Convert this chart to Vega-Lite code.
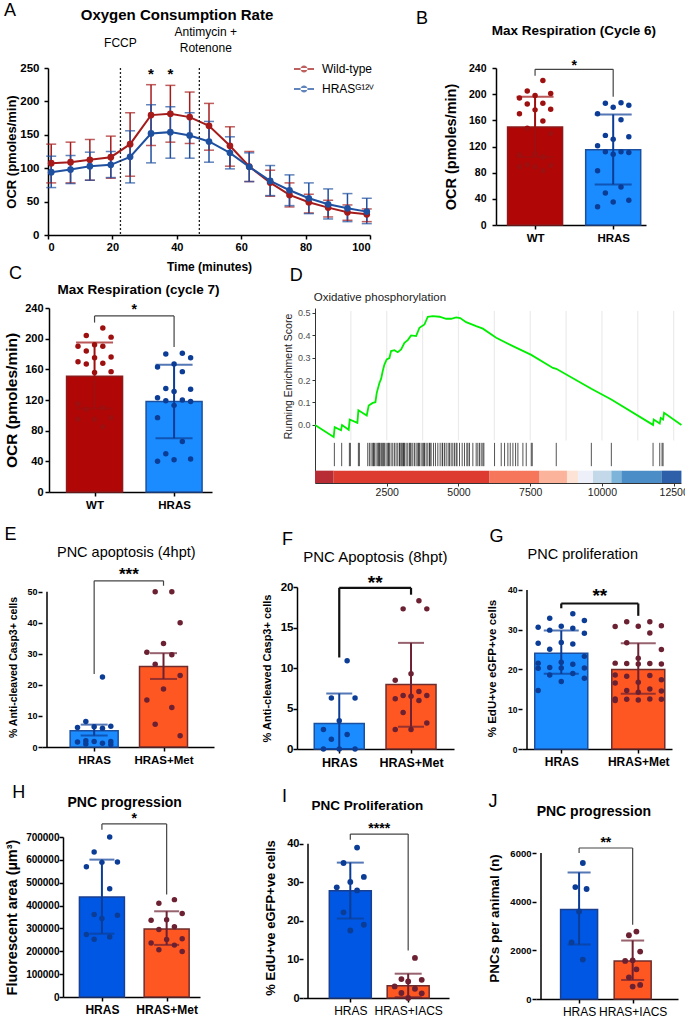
{
"$schema":"https://vega.github.io/schema/vega-lite/v6.json",
"background":"white",
"padding":{"left":3,"top":2,"right":0,"bottom":0},
"config":{
 "font":"Liberation Sans",
 "view":{"stroke":null},
 "axis":{"grid":false,"minExtent":0,"tickCount":20,"labelOverlap":false,"domainColor":"#000","domainWidth":1.5,"tickColor":"#000","tickWidth":1.5,"tickSize":4,"labelColor":"#000","labelFont":"Liberation Sans","labelFontWeight":"bold","labelFontSize":10,"labelPadding":2,"titleColor":"#000","titleFont":"Liberation Sans","titleFontWeight":"bold","titleFontSize":12,"titlePadding":5},
 "axisX":{"labelAngle":0},
 "text":{"font":"Liberation Sans","color":"#000"},
 "legend":{"labelFont":"Liberation Sans"}
},
"datasets":{
 "A":[
  {"g":"Wild-type","t":1,"v":107.5,"lo":78,"hi":136},{"g":"Wild-type","t":7,"v":109,"lo":78,"hi":139},{"g":"Wild-type","t":13,"v":112.5,"lo":82,"hi":143},{"g":"Wild-type","t":19.5,"v":116.5,"lo":85,"hi":148},{"g":"Wild-type","t":25.5,"v":136,"lo":88,"hi":183},{"g":"Wild-type","t":32,"v":179.5,"lo":134,"hi":225},{"g":"Wild-type","t":38,"v":181.5,"lo":139,"hi":224},{"g":"Wild-type","t":44,"v":176.5,"lo":137,"hi":214},{"g":"Wild-type","t":50,"v":163.5,"lo":127,"hi":197},{"g":"Wild-type","t":56.5,"v":133.5,"lo":103,"hi":162},{"g":"Wild-type","t":62.5,"v":102.5,"lo":80,"hi":125},{"g":"Wild-type","t":69,"v":78.5,"lo":58,"hi":97},{"g":"Wild-type","t":75,"v":60,"lo":42,"hi":78},{"g":"Wild-type","t":81,"v":49,"lo":33,"hi":61},{"g":"Wild-type","t":87,"v":41,"lo":27,"hi":52},{"g":"Wild-type","t":93,"v":34,"lo":22,"hi":45},{"g":"Wild-type","t":99,"v":31,"lo":20,"hi":39},
  {"g":"HRAS","t":1,"v":94,"lo":71,"hi":118},{"g":"HRAS","t":7,"v":98,"lo":77,"hi":119},{"g":"HRAS","t":13,"v":103,"lo":82,"hi":124},{"g":"HRAS","t":19.5,"v":105,"lo":86,"hi":125},{"g":"HRAS","t":25.5,"v":117,"lo":78,"hi":156},{"g":"HRAS","t":32,"v":152,"lo":108,"hi":195},{"g":"HRAS","t":38,"v":154,"lo":115,"hi":192},{"g":"HRAS","t":44,"v":149,"lo":115,"hi":183},{"g":"HRAS","t":50,"v":140,"lo":109,"hi":170},{"g":"HRAS","t":56.5,"v":123,"lo":99,"hi":147},{"g":"HRAS","t":62.5,"v":102,"lo":80,"hi":123},{"g":"HRAS","t":69,"v":81,"lo":59,"hi":104},{"g":"HRAS","t":75,"v":67,"lo":44,"hi":90},{"g":"HRAS","t":81,"v":55,"lo":32,"hi":78},{"g":"HRAS","t":87,"v":46,"lo":24,"hi":69},{"g":"HRAS","t":93,"v":40,"lo":20,"hi":62},{"g":"HRAS","t":99,"v":35,"lo":17,"hi":55}
 ],
 "Bbar":[{"g":"WT","m":150,"lo":104,"hi":196},{"g":"HRAS","m":115,"lo":62,"hi":169}],
 "Bpts":[{"g":"WT","v":221},{"g":"WT","v":205},{"g":"WT","v":201},{"g":"WT","v":198},{"g":"WT","v":194},{"g":"WT","v":186},{"g":"WT","v":185},{"g":"WT","v":177},{"g":"WT","v":176},{"g":"WT","v":170},{"g":"WT","v":159},{"g":"WT","v":148},{"g":"WT","v":140},{"g":"WT","v":109},{"g":"WT","v":107},{"g":"WT","v":104},{"g":"WT","v":92},{"g":"WT","v":91},{"g":"WT","v":89},{"g":"WT","v":89},{"g":"WT","v":83},
  {"g":"HRAS","v":187},{"g":"HRAS","v":186},{"g":"HRAS","v":183},{"g":"HRAS","v":180},{"g":"HRAS","v":170},{"g":"HRAS","v":161},{"g":"HRAS","v":137},{"g":"HRAS","v":135},{"g":"HRAS","v":131},{"g":"HRAS","v":121},{"g":"HRAS","v":112},{"g":"HRAS","v":112},{"g":"HRAS","v":111},{"g":"HRAS","v":108},{"g":"HRAS","v":83},{"g":"HRAS","v":58},{"g":"HRAS","v":49},{"g":"HRAS","v":38},{"g":"HRAS","v":35},{"g":"HRAS","v":28}],
 "Cbar":[{"g":"WT","m":151,"lo":109,"hi":195},{"g":"HRAS","m":118,"lo":70,"hi":166}],
 "Cpts":[{"g":"WT","v":214},{"g":"WT","v":204},{"g":"WT","v":202},{"g":"WT","v":192},{"g":"WT","v":190},{"g":"WT","v":190},{"g":"WT","v":184},{"g":"WT","v":176},{"g":"WT","v":175},{"g":"WT","v":170},{"g":"WT","v":168},{"g":"WT","v":167},{"g":"WT","v":157},{"g":"WT","v":156},{"g":"WT","v":115},{"g":"WT","v":110},{"g":"WT","v":108},{"g":"WT","v":97},{"g":"WT","v":95},{"g":"WT","v":95},{"g":"WT","v":85},
  {"g":"HRAS","v":181},{"g":"HRAS","v":180},{"g":"HRAS","v":175},{"g":"HRAS","v":167},{"g":"HRAS","v":163},{"g":"HRAS","v":157},{"g":"HRAS","v":135},{"g":"HRAS","v":134},{"g":"HRAS","v":131},{"g":"HRAS","v":123},{"g":"HRAS","v":120},{"g":"HRAS","v":119},{"g":"HRAS","v":118},{"g":"HRAS","v":113},{"g":"HRAS","v":97},{"g":"HRAS","v":66},{"g":"HRAS","v":50},{"g":"HRAS","v":43},{"g":"HRAS","v":42},{"g":"HRAS","v":40}],
 "Ebar":[{"g":"HRAS","m":5.2,"lo":3.7,"hi":7.2},{"g":"HRAS+Met","m":25.9,"lo":21.9,"hi":30.2}],
 "Epts":[{"g":"HRAS","v":22.5},{"g":"HRAS","v":8.2},{"g":"HRAS","v":6.7},{"g":"HRAS","v":6.5},{"g":"HRAS","v":6.3},{"g":"HRAS","v":6.0},{"g":"HRAS","v":2.0},{"g":"HRAS","v":1.8},{"g":"HRAS","v":1.8},{"g":"HRAS","v":1.6},{"g":"HRAS","v":1.2},{"g":"HRAS","v":1.0},{"g":"HRAS","v":0.8},
  {"g":"HRAS+Met","v":50},{"g":"HRAS+Met","v":50},{"g":"HRAS+Met","v":40},{"g":"HRAS+Met","v":33.3},{"g":"HRAS+Met","v":30.5},{"g":"HRAS+Met","v":29.7},{"g":"HRAS+Met","v":26.6},{"g":"HRAS+Met","v":23},{"g":"HRAS+Met","v":18.7},{"g":"HRAS+Met","v":15.1},{"g":"HRAS+Met","v":12.7},{"g":"HRAS+Met","v":7.3},{"g":"HRAS+Met","v":3.6}],
 "Fbar":[{"g":"HRAS","m":3.15,"lo":0,"hi":6.85},{"g":"HRAS+Met","m":7.95,"lo":2.75,"hi":13.1}],
 "Fpts":[{"g":"HRAS","v":10.9},{"g":"HRAS","v":6.3},{"g":"HRAS","v":6.3},{"g":"HRAS","v":3.5},{"g":"HRAS","v":2.4},{"g":"HRAS","v":1.8},{"g":"HRAS","v":1.2},{"g":"HRAS","v":0},{"g":"HRAS","v":0},{"g":"HRAS","v":0},
  {"g":"HRAS+Met","v":18.3},{"g":"HRAS+Met","v":17.3},{"g":"HRAS+Met","v":17.3},{"g":"HRAS+Met","v":9.3},{"g":"HRAS+Met","v":8.5},{"g":"HRAS+Met","v":7.1},{"g":"HRAS+Met","v":6.6},{"g":"HRAS+Met","v":6.6},{"g":"HRAS+Met","v":6.5},{"g":"HRAS+Met","v":6.2},{"g":"HRAS+Met","v":6.0},{"g":"HRAS+Met","v":4.5},{"g":"HRAS+Met","v":3.2},{"g":"HRAS+Met","v":2.4},{"g":"HRAS+Met","v":2.4}],
 "Gbar":[{"g":"HRAS","m":24.1,"lo":18.9,"hi":29.8},{"g":"HRAS+Met","m":20.0,"lo":13.9,"hi":26.6}],
 "Gpts":[{"g":"HRAS","v":34},{"g":"HRAS","v":32.9},{"g":"HRAS","v":32.3},{"g":"HRAS","v":30.9},{"g":"HRAS","v":30.6},{"g":"HRAS","v":30.4},{"g":"HRAS","v":29.9},{"g":"HRAS","v":29.1},{"g":"HRAS","v":26.8},{"g":"HRAS","v":26.6},{"g":"HRAS","v":26.4},{"g":"HRAS","v":25.1},{"g":"HRAS","v":23.3},{"g":"HRAS","v":21.8},{"g":"HRAS","v":21.6},{"g":"HRAS","v":21.3},{"g":"HRAS","v":20.5},{"g":"HRAS","v":20.4},{"g":"HRAS","v":20.4},{"g":"HRAS","v":20.3},{"g":"HRAS","v":19.0},{"g":"HRAS","v":18.6},{"g":"HRAS","v":17.8},{"g":"HRAS","v":17.0},{"g":"HRAS","v":14.7},
  {"g":"HRAS+Met","v":32},{"g":"HRAS+Met","v":32},{"g":"HRAS+Met","v":31},{"g":"HRAS+Met","v":30.9},{"g":"HRAS+Met","v":30.8},{"g":"HRAS+Met","v":29.2},{"g":"HRAS+Met","v":26.7},{"g":"HRAS+Met","v":25},{"g":"HRAS+Met","v":22.8},{"g":"HRAS+Met","v":21.6},{"g":"HRAS+Met","v":21.5},{"g":"HRAS+Met","v":21.5},{"g":"HRAS+Met","v":21.4},{"g":"HRAS+Met","v":21.4},{"g":"HRAS+Met","v":18.6},{"g":"HRAS+Met","v":18.5},{"g":"HRAS+Met","v":18.3},{"g":"HRAS+Met","v":17.4},{"g":"HRAS+Met","v":16.8},{"g":"HRAS+Met","v":16.6},{"g":"HRAS+Met","v":15.1},{"g":"HRAS+Met","v":14.7},{"g":"HRAS+Met","v":14.6},{"g":"HRAS+Met","v":14.3},{"g":"HRAS+Met","v":12.6},{"g":"HRAS+Met","v":12.6},{"g":"HRAS+Met","v":12.5},{"g":"HRAS+Met","v":12.5},{"g":"HRAS+Met","v":12.3},{"g":"HRAS+Met","v":12.2}],
 "Hbar":[{"g":"HRAS","m":437000,"lo":277000,"hi":601000},{"g":"HRAS+Met","m":298000,"lo":228000,"hi":375000}],
 "Hpts":[{"g":"HRAS","v":700000},{"g":"HRAS","v":634000},{"g":"HRAS","v":591000},{"g":"HRAS","v":589000},{"g":"HRAS","v":570000},{"g":"HRAS","v":474000},{"g":"HRAS","v":361000},{"g":"HRAS","v":358000},{"g":"HRAS","v":343000},{"g":"HRAS","v":273000},{"g":"HRAS","v":263000},{"g":"HRAS","v":253000},
  {"g":"HRAS+Met","v":426000},{"g":"HRAS+Met","v":410000},{"g":"HRAS+Met","v":365000},{"g":"HRAS+Met","v":338000},{"g":"HRAS+Met","v":336000},{"g":"HRAS+Met","v":307000},{"g":"HRAS+Met","v":295000},{"g":"HRAS+Met","v":255000},{"g":"HRAS+Met","v":252000},{"g":"HRAS+Met","v":236000},{"g":"HRAS+Met","v":227000},{"g":"HRAS+Met","v":207000},{"g":"HRAS+Met","v":199000}],
 "Ibar":[{"g":"HRAS","m":27.8,"lo":20.6,"hi":35.1},{"g":"HRAS+IACS","m":3.2,"lo":0.2,"hi":6.3}],
 "Ipts":[{"g":"HRAS","v":39},{"g":"HRAS","v":35},{"g":"HRAS","v":31.4},{"g":"HRAS","v":30.1},{"g":"HRAS","v":28.7},{"g":"HRAS","v":27.9},{"g":"HRAS","v":22.2},{"g":"HRAS","v":19},{"g":"HRAS","v":17.5},
  {"g":"HRAS+IACS","v":10.4},{"g":"HRAS+IACS","v":4.9},{"g":"HRAS+IACS","v":4.7},{"g":"HRAS+IACS","v":4.3},{"g":"HRAS+IACS","v":3.0},{"g":"HRAS+IACS","v":2.4},{"g":"HRAS+IACS","v":1.3},{"g":"HRAS+IACS","v":1.2},{"g":"HRAS+IACS","v":0}],
 "Jbar":[{"g":"HRAS","m":3680,"lo":2240,"hi":5200},{"g":"HRAS+IACS","m":1565,"lo":783,"hi":2403}],
 "Jpts":[{"g":"HRAS","v":5590},{"g":"HRAS","v":4600},{"g":"HRAS","v":4520},{"g":"HRAS","v":3600},{"g":"HRAS","v":2330},{"g":"HRAS","v":1620},
  {"g":"HRAS+IACS","v":2770},{"g":"HRAS+IACS","v":2620},{"g":"HRAS+IACS","v":1950},{"g":"HRAS+IACS","v":1590},{"g":"HRAS+IACS","v":1565},{"g":"HRAS+IACS","v":1220},{"g":"HRAS+IACS","v":890},{"g":"HRAS+IACS","v":580},{"g":"HRAS+IACS","v":510}],
 "Des":[{"x":0,"y":0},{"x":651,"y":-0.054},{"x":686,"y":-0.010},{"x":907,"y":-0.024},{"x":942,"y":-0.001},{"x":1175,"y":-0.022},{"x":1209,"y":0.024},{"x":1477,"y":0.009},{"x":1512,"y":0.065},{"x":1803,"y":0.042},{"x":1872,"y":0.086},{"x":2012,"y":0.098},{"x":2105,"y":0.101},{"x":2152,"y":0.143},{"x":2245,"y":0.187},{"x":2303,"y":0.205},{"x":2361,"y":0.240},{"x":2419,"y":0.269},{"x":2500,"y":0.292},{"x":2593,"y":0.298},{"x":2652,"y":0.329},{"x":2768,"y":0.333},{"x":2884,"y":0.324},{"x":3001,"y":0.336},{"x":3117,"y":0.366},{"x":3233,"y":0.378},{"x":3349,"y":0.399},{"x":3524,"y":0.396},{"x":3640,"y":0.433},{"x":3815,"y":0.448},{"x":3931,"y":0.482},{"x":4105,"y":0.485},{"x":4338,"y":0.482},{"x":4571,"y":0.473},{"x":4745,"y":0.473},{"x":4919,"y":0.479},{"x":5059,"y":0.476},{"x":5268,"y":0.458},{"x":5617,"y":0.440},{"x":5850,"y":0.429},{"x":6315,"y":0.388},{"x":6896,"y":0.351},{"x":7536,"y":0.312},{"x":8292,"y":0.254},{"x":8408,"y":0.250},{"x":9630,"y":0.161},{"x":10327,"y":0.113},{"x":11781,"y":0.000},{"x":11804,"y":0.024},{"x":12014,"y":0.006},{"x":12049,"y":0.031},{"x":12130,"y":0.024},{"x":12165,"y":0.054},{"x":12770,"y":0.000}],
 "Drug":[{"x":675},{"x":930},{"x":1198},{"x":1233},{"x":1512},{"x":1547},{"x":1838},{"x":1896},{"x":1954},{"x":2012},{"x":2040},{"x":2070},{"x":2128},{"x":2186},{"x":2221},{"x":2240},{"x":2268},{"x":2314},{"x":2361},{"x":2380},{"x":2419},{"x":2477},{"x":2535},{"x":2560},{"x":2593},{"x":2652},{"x":2710},{"x":2768},{"x":2826},{"x":2884},{"x":2942},{"x":2960},{"x":3001},{"x":3035},{"x":3070},{"x":3090},{"x":3117},{"x":3175},{"x":3233},{"x":3291},{"x":3320},{"x":3349},{"x":3408},{"x":3466},{"x":3524},{"x":3582},{"x":3610},{"x":3640},{"x":3698},{"x":3756},{"x":3790},{"x":3815},{"x":3873},{"x":3931},{"x":3989},{"x":4010},{"x":4047},{"x":4129},{"x":4198},{"x":4280},{"x":4361},{"x":4431},{"x":4450},{"x":4512},{"x":4571},{"x":4640},{"x":4687},{"x":4745},{"x":4803},{"x":4861},{"x":4919},{"x":4950},{"x":5036},{"x":5129},{"x":5210},{"x":5292},{"x":5330},{"x":5385},{"x":5501},{"x":5617},{"x":5675},{"x":5733},{"x":5792},{"x":5850},{"x":5885},{"x":6257},{"x":6490},{"x":6606},{"x":6722},{"x":6804},{"x":6897},{"x":6990},{"x":7071},{"x":7245},{"x":7362},{"x":7536},{"x":7571},{"x":8408},{"x":9630},{"x":10327},{"x":11781},{"x":12014},{"x":12095},{"x":12130}],
 "Dgrid":[{"x":1250},{"x":2500},{"x":3750},{"x":5000},{"x":6250},{"x":7500},{"x":8750},{"x":10000},{"x":11250},{"x":12500}],
 "Dbar":[{"x0":0,"x1":651,"c":"c01"},{"x0":651,"x1":6083,"c":"c02"},{"x0":6083,"x1":7827,"c":"c03"},{"x0":7827,"x1":8781,"c":"c04"},{"x0":8781,"x1":9164,"c":"c05"},{"x0":9164,"x1":9688,"c":"c06"},{"x0":9688,"x1":10327,"c":"c07"},{"x0":10327,"x1":10676,"c":"c08"},{"x0":10676,"x1":12072,"c":"c09"},{"x0":12072,"x1":12770,"c":"c10"}]
},
"resolve":{"scale":{"color":"independent","fill":"independent","stroke":"independent"},"legend":{"color":"independent"}},
"concat":[
 {"hconcat":[
  {"width":1,"height":1,"data":{"values":[{}]},"mark":{"type":"point","opacity":0,"size":0},"encoding":{}},
  {"hconcat":[
  {"width":322,"height":167,
   "data":{"name":"A"},
   "layer":[
    {"mark":{"type":"rule","strokeWidth":1.5},"encoding":{"x":{"field":"t","type":"quantitative","scale":{"domain":[0,100],"nice":false},"axis":{"values":[0,20,40,60,80,100],"title":"Time (minutes)","labelFontSize":11,"titleFontSize":12,"titlePadding":9}},"y":{"field":"lo","type":"quantitative","scale":{"domain":[0,250],"nice":false},"axis":{"values":[0,50,100,150,200,250],"title":"OCR (pmoles/min)","labelFontSize":11.5,"titleFontSize":13,"labelPadding":5,"titlePadding":1}},"y2":{"field":"hi"},"color":{"field":"g","type":"nominal"}}},
    {"mark":{"type":"tick","size":10,"thickness":1.5,"orient":"horizontal"},"encoding":{"x":{"field":"t","type":"quantitative"},"y":{"field":"lo","type":"quantitative"},"color":{"field":"g","type":"nominal"}}},
    {"mark":{"type":"tick","size":10,"thickness":1.5,"orient":"horizontal"},"encoding":{"x":{"field":"t","type":"quantitative"},"y":{"field":"hi","type":"quantitative"},"color":{"field":"g","type":"nominal"}}},
    {"mark":{"type":"line","strokeWidth":2},"encoding":{"x":{"field":"t","type":"quantitative"},"y":{"field":"v","type":"quantitative"},"color":{"field":"g","type":"nominal"}}},
    {"mark":{"type":"circle","size":45,"opacity":1},"encoding":{"x":{"field":"t","type":"quantitative"},"y":{"field":"v","type":"quantitative"},"color":{"field":"g","type":"nominal","scale":{"domain":["Wild-type","HRAS"],"range":["#a51b1b","#1f50a0"]},"legend":{"title":null,"orient":"none","legendX":246,"legendY":-9,"labelFontSize":12,"labelFontWeight":"normal","labelColor":"#000","symbolType":"M-1,-0.1L1,-0.1L1,0.1L-1,0.1Z M-0.35,0A0.35,0.35 0 1,0 0.35,0A0.35,0.35 0 1,0 -0.35,0Z","symbolSize":400,"symbolStrokeWidth":0,"labelOffset":8,"rowPadding":4,"labelExpr":"datum.label == 'HRAS' ? 'HRASᴳ¹²ⱽ' : datum.label"}}}},
    {"data":{"values":[{}]},"mark":{"type":"rule","strokeDash":[2,2],"strokeWidth":1.3,"color":"#222"},"encoding":{"x":{"datum":22.5,"type":"quantitative"}}},
    {"data":{"values":[{}]},"mark":{"type":"rule","strokeDash":[2,2],"strokeWidth":1.3,"color":"#222"},"encoding":{"x":{"datum":47,"type":"quantitative"}}},
    {"data":{"values":[{}]},"mark":{"type":"text","text":"FCCP","fontSize":12,"baseline":"middle"},"encoding":{"x":{"datum":22.5,"type":"quantitative"},"y":{"datum":287,"type":"quantitative"}}},
    {"data":{"values":[{}]},"mark":{"type":"text","text":"Antimycin +","fontSize":12,"baseline":"middle"},"encoding":{"x":{"datum":49,"type":"quantitative"},"y":{"datum":304.5,"type":"quantitative"}}},
    {"data":{"values":[{}]},"mark":{"type":"text","text":"Rotenone","fontSize":12,"baseline":"middle"},"encoding":{"x":{"datum":49,"type":"quantitative"},"y":{"datum":280,"type":"quantitative"}}},
    {"data":{"values":[{}]},"mark":{"type":"text","text":"*","fontSize":15,"fontWeight":"bold","baseline":"middle"},"encoding":{"x":{"datum":32,"type":"quantitative"},"y":{"datum":241,"type":"quantitative"}}},
    {"data":{"values":[{}]},"mark":{"type":"text","text":"*","fontSize":15,"fontWeight":"bold","baseline":"middle"},"encoding":{"x":{"datum":38,"type":"quantitative"},"y":{"datum":241,"type":"quantitative"}}},
    {"data":{"values":[{}]},"mark":{"type":"text","text":"A","fontSize":18,"align":"left","baseline":"middle"},"encoding":{"x":{"datum":-13.66,"type":"quantitative"},"y":{"datum":335.3,"type":"quantitative"}}},
    {"data":{"values":[{}]},"mark":{"type":"text","text":"Oxygen Consumption Rate","fontSize":15,"fontWeight":"bold","baseline":"middle"},"encoding":{"x":{"datum":40.06,"type":"quantitative"},"y":{"datum":329.3,"type":"quantitative"}}}
   ]
  },
  {"width":150,"height":157,
   "layer":[
    {"data":{"name":"Bbar"},"transform":[{"calculate":"indexof(['WT','HRAS'], datum.g)","as":"gi"}],"mark":{"type":"bar","width":55,"strokeWidth":1.5},"encoding":{"x":{"field":"gi","type":"quantitative","scale":{"domain":[-0.436,1.356],"nice":false,"zero":false},"axis":{"values":[0,1],"title":null,"labelExpr":"datum.value == 0 ? 'WT' : 'HRAS'","labelFontSize":11.5,"labelPadding":3}},"y":{"field":"m","type":"quantitative","scale":{"domain":[0,240],"nice":false},"axis":{"values":[0,40,80,120,160,200,240],"title":"OCR (pmoles/min)","titleFontSize":14.5,"labelFontSize":10.5,"labelPadding":6,"titlePadding":10}},"fill":{"field":"g","type":"nominal","scale":{"domain":["WT","HRAS"],"range":["#b00606","#1a8cff"]},"legend":null},"stroke":{"field":"g","type":"nominal","scale":{"domain":["WT","HRAS"],"range":["#8c1c1c","#1b4f9f"]},"legend":null}}},
    {"data":{"name":"Bpts"},"transform":[{"calculate":"indexof(['WT','HRAS'], datum.g)","as":"gi"},{"window":[{"op":"row_number","as":"rn"}],"groupby":["g"],"sort":[{"field":"v","order":"descending"}]},{"calculate":"datum.gi + (((datum.rn*3)%5)-2)*0.1","as":"xp"}],"mark":{"type":"circle","size":30,"opacity":1},"encoding":{"x":{"field":"xp","type":"quantitative"},"y":{"field":"v","type":"quantitative"},"color":{"field":"g","type":"nominal","scale":{"domain":["WT","HRAS"],"range":["#9e0f0f","#0c3d96"]},"legend":null}}},
    {"data":{"name":"Bbar"},"transform":[{"calculate":"indexof(['WT','HRAS'], datum.g)","as":"gi"}],"mark":{"type":"rule","strokeWidth":2},"encoding":{"x":{"field":"gi","type":"quantitative"},"y":{"field":"lo","type":"quantitative"},"y2":{"field":"hi"},"color":{"field":"g","type":"nominal"}}},
    {"data":{"name":"Bbar"},"transform":[{"calculate":"indexof(['WT','HRAS'], datum.g)","as":"gi"}],"mark":{"type":"tick","orient":"horizontal","size":37,"thickness":2},"encoding":{"x":{"field":"gi","type":"quantitative"},"y":{"field":"lo","type":"quantitative"},"color":{"field":"g","type":"nominal"}}},
    {"data":{"name":"Bbar"},"transform":[{"calculate":"indexof(['WT','HRAS'], datum.g)","as":"gi"}],"mark":{"type":"tick","orient":"horizontal","size":37,"thickness":2},"encoding":{"x":{"field":"gi","type":"quantitative"},"y":{"field":"hi","type":"quantitative"},"color":{"field":"g","type":"nominal"}}},
    {"data":{"values":[{}]},"mark":{"type":"rule","color":"#444","strokeWidth":1.2},"encoding":{"x":{"datum":0,"type":"quantitative"},"x2":{"datum":1},"y":{"datum":238,"type":"quantitative"}}},
    {"data":{"values":[{}]},"mark":{"type":"rule","color":"#444","strokeWidth":1.2},"encoding":{"x":{"datum":0,"type":"quantitative"},"y":{"datum":238,"type":"quantitative"},"y2":{"datum":228}}},
    {"data":{"values":[{}]},"mark":{"type":"rule","color":"#444","strokeWidth":1.2},"encoding":{"x":{"datum":1,"type":"quantitative"},"y":{"datum":238,"type":"quantitative"},"y2":{"datum":196}}},
    {"data":{"values":[{}]},"mark":{"type":"text","text":"*","fontSize":14,"fontWeight":"bold","baseline":"middle"},"encoding":{"x":{"datum":0.5,"type":"quantitative"},"y":{"datum":243,"type":"quantitative"}}},
    {"data":{"values":[{}]},"mark":{"type":"text","text":"B","fontSize":18,"align":"left","baseline":"middle"},"encoding":{"x":{"datum":-1.523,"type":"quantitative"},"y":{"datum":315,"type":"quantitative"}}},
    {"data":{"values":[{}]},"mark":{"type":"text","text":"Max Respiration (Cycle 6)","fontSize":13.5,"fontWeight":"bold","baseline":"middle"},"encoding":{"x":{"datum":0.496,"type":"quantitative"},"y":{"datum":297,"type":"quantitative"}}}
   ]
  }
  ],"spacing":41,"resolve":{"scale":{"color":"independent","fill":"independent","stroke":"independent"},"legend":{"color":"independent"}}}
 ],"spacing":0,"resolve":{"scale":{"color":"independent","fill":"independent","stroke":"independent"},"legend":{"color":"independent"}}},
 {"concat":[
  {"hconcat":[
   {"width":1,"height":1,"data":{"values":[{}]},"mark":{"type":"point","opacity":0,"size":0},"encoding":{}},
   {"hconcat":[
   {"width":163,"height":184,
    "layer":[
     {"data":{"name":"Cbar"},"transform":[{"calculate":"indexof(['WT','HRAS'], datum.g)","as":"gi"}],"mark":{"type":"bar","width":56,"strokeWidth":1.5},"encoding":{"x":{"field":"gi","type":"quantitative","scale":{"domain":[-0.51,1.414],"nice":false,"zero":false},"axis":{"values":[0,1],"title":null,"labelExpr":"datum.value == 0 ? 'WT' : 'HRAS'","labelFontSize":11.5,"labelPadding":3}},"y":{"field":"m","type":"quantitative","scale":{"domain":[0,240],"nice":false},"axis":{"values":[0,40,80,120,160,200,240],"title":"OCR (pmoles/min)","titleFontSize":15.5,"labelFontSize":11,"labelPadding":2,"titlePadding":5}},"fill":{"field":"g","type":"nominal","scale":{"domain":["WT","HRAS"],"range":["#b00606","#1a8cff"]},"legend":null},"stroke":{"field":"g","type":"nominal","scale":{"domain":["WT","HRAS"],"range":["#8c1c1c","#1b4f9f"]},"legend":null}}},
     {"data":{"name":"Cpts"},"transform":[{"calculate":"indexof(['WT','HRAS'], datum.g)","as":"gi"},{"window":[{"op":"row_number","as":"rn"}],"groupby":["g"],"sort":[{"field":"v","order":"descending"}]},{"calculate":"datum.gi + (((datum.rn*3)%5)-2)*0.104","as":"xp"}],"mark":{"type":"circle","size":30,"opacity":1},"encoding":{"x":{"field":"xp","type":"quantitative"},"y":{"field":"v","type":"quantitative"},"color":{"field":"g","type":"nominal","scale":{"domain":["WT","HRAS"],"range":["#9e0f0f","#0c3d96"]},"legend":null}}},
     {"data":{"name":"Cbar"},"transform":[{"calculate":"indexof(['WT','HRAS'], datum.g)","as":"gi"}],"mark":{"type":"rule","strokeWidth":2},"encoding":{"x":{"field":"gi","type":"quantitative"},"y":{"field":"lo","type":"quantitative"},"y2":{"field":"hi"},"color":{"field":"g","type":"nominal"}}},
     {"data":{"name":"Cbar"},"transform":[{"calculate":"indexof(['WT','HRAS'], datum.g)","as":"gi"}],"mark":{"type":"tick","orient":"horizontal","size":37,"thickness":2},"encoding":{"x":{"field":"gi","type":"quantitative"},"y":{"field":"lo","type":"quantitative"},"color":{"field":"g","type":"nominal"}}},
     {"data":{"name":"Cbar"},"transform":[{"calculate":"indexof(['WT','HRAS'], datum.g)","as":"gi"}],"mark":{"type":"tick","orient":"horizontal","size":37,"thickness":2},"encoding":{"x":{"field":"gi","type":"quantitative"},"y":{"field":"hi","type":"quantitative"},"color":{"field":"g","type":"nominal"}}},
     {"data":{"values":[{}]},"mark":{"type":"rule","color":"#444","strokeWidth":1.2},"encoding":{"x":{"datum":0,"type":"quantitative"},"x2":{"datum":1},"y":{"datum":229.6,"type":"quantitative"}}},
     {"data":{"values":[{}]},"mark":{"type":"rule","color":"#444","strokeWidth":1.2},"encoding":{"x":{"datum":0,"type":"quantitative"},"y":{"datum":229.6,"type":"quantitative"},"y2":{"datum":221}}},
     {"data":{"values":[{}]},"mark":{"type":"rule","color":"#444","strokeWidth":1.2},"encoding":{"x":{"datum":1,"type":"quantitative"},"y":{"datum":229.6,"type":"quantitative"},"y2":{"datum":189}}},
     {"data":{"values":[{}]},"mark":{"type":"text","text":"*","fontSize":14,"fontWeight":"bold","baseline":"middle"},"encoding":{"x":{"datum":0.5,"type":"quantitative"},"y":{"datum":237,"type":"quantitative"}}},
     {"data":{"values":[{}]},"mark":{"type":"text","text":"C","fontSize":18,"align":"left","baseline":"middle"},"encoding":{"x":{"datum":-1.075,"type":"quantitative"},"y":{"datum":284,"type":"quantitative"}}},
     {"data":{"values":[{}]},"mark":{"type":"text","text":"Max Respiration (cycle 7)","fontSize":13.5,"fontWeight":"bold","baseline":"middle"},"encoding":{"x":{"datum":0.553,"type":"quantitative"},"y":{"datum":264,"type":"quantitative"}}}
    ]
   },
   {"width":366,"height":175,
    "layer":[
     {"data":{"name":"Dgrid"},"mark":{"type":"rule","color":"#ebebeb","strokeWidth":1.2},"encoding":{"x":{"field":"x","type":"quantitative","scale":{"domain":[0,12755],"nice":false,"zero":false},"axis":{"values":[2500,5000,7500,10000,12500],"format":"d","title":null,"labelFontWeight":"normal","labelFontSize":10.5,"labelColor":"#222","domainColor":"#333","domainWidth":1,"tickColor":"#333","tickWidth":1,"tickSize":3,"labelPadding":1}},"y":{"datum":-0.07,"type":"quantitative","scale":{"domain":[-0.259,0.521],"nice":false,"zero":false},"axis":{"values":[0,0.1,0.2,0.3,0.4,0.5],"format":".1f","title":"Running Enrichment Score","titleY":68,"titleFontWeight":"normal","titleFontSize":10.5,"titleColor":"#222","labelFontWeight":"normal","labelFontSize":9,"labelColor":"#4d4d4d","domainColor":"#333","domainWidth":1,"tickColor":"#333","tickWidth":1,"tickSize":3,"titlePadding":4}},"y2":{"datum":0.508}}},
     {"data":{"name":"Drug"},"mark":{"type":"rule","color":"#000","strokeWidth":0.8,"opacity":0.85},"encoding":{"x":{"field":"x","type":"quantitative"},"y":{"datum":-0.08,"type":"quantitative"},"y2":{"datum":-0.184}}},
     {"data":{"name":"Dbar"},"mark":{"type":"rect"},"encoding":{"x":{"field":"x0","type":"quantitative"},"x2":{"field":"x1"},"y":{"datum":-0.204,"type":"quantitative"},"y2":{"datum":-0.259},"color":{"field":"c","type":"nominal","scale":{"domain":["c01","c02","c03","c04","c05","c06","c07","c08","c09","c10"],"range":["#b82d35","#de3b30","#f5765a","#fbb49b","#fde2d6","#eef0f9","#c3d8e8","#7db4da","#4b8dc7","#2d60a8"]},"legend":null}}},
     {"data":{"name":"Des"},"mark":{"type":"line","color":"#00ee00","strokeWidth":1.8},"encoding":{"x":{"field":"x","type":"quantitative"},"y":{"field":"y","type":"quantitative"}}},
     {"data":{"values":[{}]},"mark":{"type":"text","text":"D","fontSize":18,"align":"left","baseline":"middle"},"encoding":{"x":{"datum":-882,"type":"quantitative"},"y":{"datum":0.6636,"type":"quantitative"}}},
     {"data":{"values":[{}]},"mark":{"type":"text","text":"Oxidative phosphorylation","fontSize":11.5,"color":"#222","align":"left","baseline":"middle"},"encoding":{"x":{"datum":-45,"type":"quantitative"},"y":{"datum":0.5655,"type":"quantitative"}}}
    ]
   }
   ],"spacing":63,"resolve":{"scale":{"color":"independent","fill":"independent","stroke":"independent"},"legend":{"color":"independent"}}}
  ],"spacing":0,"resolve":{"scale":{"color":"independent","fill":"independent","stroke":"independent"},"legend":{"color":"independent"}}},
  {"hconcat":[
   {"width":1,"height":1,"data":{"values":[{}]},"mark":{"type":"point","opacity":0,"size":0},"encoding":{}},
   {"hconcat":[
   {"width":172,"height":160,
    "layer":[
     {"data":{"name":"Ebar"},"transform":[{"calculate":"indexof(['HRAS','HRAS+Met'], datum.g)","as":"gi"}],"mark":{"type":"bar","width":48,"strokeWidth":1.5},"encoding":{"x":{"field":"gi","type":"quantitative","scale":{"domain":[-0.68,1.656],"nice":false,"zero":false},"axis":{"values":[0,1],"title":null,"labelExpr":"datum.value == 0 ? 'HRAS' : 'HRAS+Met'","labelFontSize":11.5,"labelPadding":3}},"y":{"field":"m","type":"quantitative","scale":{"domain":[0,51.5],"nice":false},"axis":{"values":[0,10,20,30,40,50],"domain":false,"title":"% Anti-cleaved Casp3+ cells","titleFontSize":10.5,"labelFontSize":9,"labelPadding":1,"titlePadding":8}},"fill":{"field":"g","type":"nominal","scale":{"domain":["HRAS","HRAS+Met"],"range":["#1a8cff","#ff5722"]},"legend":null},"stroke":{"field":"g","type":"nominal","scale":{"domain":["HRAS","HRAS+Met"],"range":["#1b4f9f","#6e2c2c"]},"legend":null}}},
     {"data":{"values":[{}]},"mark":{"type":"rule","color":"#000","strokeWidth":1.5},"encoding":{"x":{"datum":-0.68,"type":"quantitative"},"y":{"datum":0,"type":"quantitative"},"y2":{"datum":50}}},
     {"data":{"name":"Epts"},"transform":[{"calculate":"indexof(['HRAS','HRAS+Met'], datum.g)","as":"gi"},{"window":[{"op":"row_number","as":"rn"}],"groupby":["g"],"sort":[{"field":"v","order":"descending"}]},{"calculate":"datum.gi + (((datum.rn*3)%5)-2)*0.12","as":"xp"}],"mark":{"type":"circle","size":30,"opacity":1},"encoding":{"x":{"field":"xp","type":"quantitative"},"y":{"field":"v","type":"quantitative"},"color":{"field":"g","type":"nominal","scale":{"domain":["HRAS","HRAS+Met"],"range":["#0c3d96","#6b2132"]},"legend":null}}},
     {"data":{"name":"Ebar"},"transform":[{"calculate":"indexof(['HRAS','HRAS+Met'], datum.g)","as":"gi"}],"mark":{"type":"rule","strokeWidth":2},"encoding":{"x":{"field":"gi","type":"quantitative"},"y":{"field":"lo","type":"quantitative"},"y2":{"field":"hi"},"color":{"field":"g","type":"nominal"}}},
     {"data":{"name":"Ebar"},"transform":[{"calculate":"indexof(['HRAS','HRAS+Met'], datum.g)","as":"gi"}],"mark":{"type":"tick","orient":"horizontal","size":27,"thickness":2},"encoding":{"x":{"field":"gi","type":"quantitative"},"y":{"field":"lo","type":"quantitative"},"color":{"field":"g","type":"nominal"}}},
     {"data":{"name":"Ebar"},"transform":[{"calculate":"indexof(['HRAS','HRAS+Met'], datum.g)","as":"gi"}],"mark":{"type":"tick","orient":"horizontal","size":27,"thickness":2},"encoding":{"x":{"field":"gi","type":"quantitative"},"y":{"field":"hi","type":"quantitative"},"color":{"field":"g","type":"nominal"}}},
     {"data":{"values":[{}]},"mark":{"type":"rule","color":"#444","strokeWidth":1.2},"encoding":{"x":{"datum":0,"type":"quantitative"},"x2":{"datum":1},"y":{"datum":53.5,"type":"quantitative"}}},
     {"data":{"values":[{}]},"mark":{"type":"rule","color":"#444","strokeWidth":1.2},"encoding":{"x":{"datum":0,"type":"quantitative"},"y":{"datum":53.5,"type":"quantitative"},"y2":{"datum":23.5}}},
     {"data":{"values":[{}]},"mark":{"type":"rule","color":"#444","strokeWidth":1.2},"encoding":{"x":{"datum":1,"type":"quantitative"},"y":{"datum":53.5,"type":"quantitative"},"y2":{"datum":51.9}}},
     {"data":{"values":[{}]},"mark":{"type":"text","text":"***","fontSize":17,"fontWeight":"bold","baseline":"middle"},"encoding":{"x":{"datum":0.5,"type":"quantitative"},"y":{"datum":55.3,"type":"quantitative"}}},
     {"data":{"values":[{}]},"mark":{"type":"text","text":"E","fontSize":18,"align":"left","baseline":"middle"},"encoding":{"x":{"datum":-1.293,"type":"quantitative"},"y":{"datum":68.2,"type":"quantitative"}}},
     {"data":{"values":[{}]},"mark":{"type":"text","text":"PNC apoptosis (4hpt)","fontSize":14.5,"baseline":"middle"},"encoding":{"x":{"datum":0.463,"type":"quantitative"},"y":{"datum":62.4,"type":"quantitative"}}}
    ]
   },
   {"hconcat":[
    {"width":157,"height":162,
     "layer":[
      {"data":{"name":"Fbar"},"transform":[{"calculate":"indexof(['HRAS','HRAS+Met'], datum.g)","as":"gi"}],"mark":{"type":"bar","width":50,"strokeWidth":1.5},"encoding":{"x":{"field":"gi","type":"quantitative","scale":{"domain":[-0.519,1.529],"nice":false,"zero":false},"axis":{"values":[0,1],"title":null,"labelExpr":"datum.value == 0 ? 'HRAS' : 'HRAS+Met'","labelFontSize":12.5,"labelPadding":3}},"y":{"field":"m","type":"quantitative","scale":{"domain":[0,20],"nice":false},"axis":{"values":[0,5,10,15,20],"title":"% Anti-cleaved Casp3+ cells","titleFontSize":11,"labelFontSize":11.5,"labelPadding":0,"titlePadding":8}},"fill":{"field":"g","type":"nominal","scale":{"domain":["HRAS","HRAS+Met"],"range":["#1a8cff","#ff5722"]},"legend":null},"stroke":{"field":"g","type":"nominal","scale":{"domain":["HRAS","HRAS+Met"],"range":["#1b4f9f","#6e2c2c"]},"legend":null}}},
      {"data":{"name":"Fpts"},"transform":[{"calculate":"indexof(['HRAS','HRAS+Met'], datum.g)","as":"gi"},{"window":[{"op":"row_number","as":"rn"}],"groupby":["g"],"sort":[{"field":"v","order":"descending"}]},{"calculate":"datum.gi + (((datum.rn*3)%5)-2)*0.11","as":"xp"}],"mark":{"type":"circle","size":30,"opacity":1},"encoding":{"x":{"field":"xp","type":"quantitative"},"y":{"field":"v","type":"quantitative"},"color":{"field":"g","type":"nominal","scale":{"domain":["HRAS","HRAS+Met"],"range":["#0c3d96","#6b2132"]},"legend":null}}},
      {"data":{"name":"Fbar"},"transform":[{"calculate":"indexof(['HRAS','HRAS+Met'], datum.g)","as":"gi"}],"mark":{"type":"rule","strokeWidth":2},"encoding":{"x":{"field":"gi","type":"quantitative"},"y":{"field":"lo","type":"quantitative"},"y2":{"field":"hi"},"color":{"field":"g","type":"nominal"}}},
      {"data":{"name":"Fbar"},"transform":[{"calculate":"indexof(['HRAS','HRAS+Met'], datum.g)","as":"gi"}],"mark":{"type":"tick","orient":"horizontal","size":26,"thickness":2},"encoding":{"x":{"field":"gi","type":"quantitative"},"y":{"field":"lo","type":"quantitative"},"color":{"field":"g","type":"nominal"}}},
      {"data":{"name":"Fbar"},"transform":[{"calculate":"indexof(['HRAS','HRAS+Met'], datum.g)","as":"gi"}],"mark":{"type":"tick","orient":"horizontal","size":26,"thickness":2},"encoding":{"x":{"field":"gi","type":"quantitative"},"y":{"field":"hi","type":"quantitative"},"color":{"field":"g","type":"nominal"}}},
      {"data":{"values":[{}]},"mark":{"type":"rule","color":"#111","strokeWidth":2.2},"encoding":{"x":{"datum":0,"type":"quantitative"},"x2":{"datum":1},"y":{"datum":19.9,"type":"quantitative"}}},
      {"data":{"values":[{}]},"mark":{"type":"rule","color":"#111","strokeWidth":2.2},"encoding":{"x":{"datum":0,"type":"quantitative"},"y":{"datum":19.9,"type":"quantitative"},"y2":{"datum":11.3}}},
      {"data":{"values":[{}]},"mark":{"type":"rule","color":"#111","strokeWidth":2.2},"encoding":{"x":{"datum":1,"type":"quantitative"},"y":{"datum":19.9,"type":"quantitative"},"y2":{"datum":19.05}}},
      {"data":{"values":[{}]},"mark":{"type":"text","text":"**","fontSize":19,"fontWeight":"bold","baseline":"middle"},"encoding":{"x":{"datum":0.5,"type":"quantitative"},"y":{"datum":20.5,"type":"quantitative"}}},
      {"data":{"values":[{}]},"mark":{"type":"text","text":"F","fontSize":18,"align":"left","baseline":"middle"},"encoding":{"x":{"datum":-0.797,"type":"quantitative"},"y":{"datum":25.8,"type":"quantitative"}}},
      {"data":{"values":[{}]},"mark":{"type":"text","text":"PNC Apoptosis (8hpt)","fontSize":15,"baseline":"middle"},"encoding":{"x":{"datum":0.503,"type":"quantitative"},"y":{"datum":23.7,"type":"quantitative"}}}
     ]
    },
    {"width":150,"height":162,
     "layer":[
      {"data":{"name":"Gbar"},"transform":[{"calculate":"indexof(['HRAS','HRAS+Met'], datum.g)","as":"gi"}],"mark":{"type":"bar","width":53,"strokeWidth":1.5},"encoding":{"x":{"field":"gi","type":"quantitative","scale":{"domain":[-0.445,1.373],"nice":false,"zero":false},"axis":{"values":[0,1],"title":null,"labelExpr":"datum.value == 0 ? 'HRAS' : 'HRAS+Met'","labelFontSize":12,"labelPadding":3}},"y":{"field":"m","type":"quantitative","scale":{"domain":[0,40.75],"nice":false},"axis":{"values":[0,10,20,30,40],"domain":false,"title":"% EdU+ve eGFP+ve cells","titleFontSize":11.5,"labelFontSize":8.5,"labelPadding":1,"titlePadding":10}},"fill":{"field":"g","type":"nominal","scale":{"domain":["HRAS","HRAS+Met"],"range":["#1a8cff","#ff5722"]},"legend":null},"stroke":{"field":"g","type":"nominal","scale":{"domain":["HRAS","HRAS+Met"],"range":["#1b4f9f","#6e2c2c"]},"legend":null}}},
      {"data":{"values":[{}]},"mark":{"type":"rule","color":"#000","strokeWidth":1.5},"encoding":{"x":{"datum":-0.445,"type":"quantitative"},"y":{"datum":0,"type":"quantitative"},"y2":{"datum":40}}},
      {"data":{"name":"Gpts"},"transform":[{"calculate":"indexof(['HRAS','HRAS+Met'], datum.g)","as":"gi"},{"window":[{"op":"row_number","as":"rn"}],"groupby":["g"],"sort":[{"field":"v","order":"descending"}]},{"calculate":"datum.gi + (((datum.rn*3)%5)-2)*0.15","as":"xp"}],"mark":{"type":"circle","size":30,"opacity":1},"encoding":{"x":{"field":"xp","type":"quantitative"},"y":{"field":"v","type":"quantitative"},"color":{"field":"g","type":"nominal","scale":{"domain":["HRAS","HRAS+Met"],"range":["#0c3d96","#6b2132"]},"legend":null}}},
      {"data":{"name":"Gbar"},"transform":[{"calculate":"indexof(['HRAS','HRAS+Met'], datum.g)","as":"gi"}],"mark":{"type":"rule","strokeWidth":2},"encoding":{"x":{"field":"gi","type":"quantitative"},"y":{"field":"lo","type":"quantitative"},"y2":{"field":"hi"},"color":{"field":"g","type":"nominal"}}},
      {"data":{"name":"Gbar"},"transform":[{"calculate":"indexof(['HRAS','HRAS+Met'], datum.g)","as":"gi"}],"mark":{"type":"tick","orient":"horizontal","size":35,"thickness":2},"encoding":{"x":{"field":"gi","type":"quantitative"},"y":{"field":"lo","type":"quantitative"},"color":{"field":"g","type":"nominal"}}},
      {"data":{"name":"Gbar"},"transform":[{"calculate":"indexof(['HRAS','HRAS+Met'], datum.g)","as":"gi"}],"mark":{"type":"tick","orient":"horizontal","size":35,"thickness":2},"encoding":{"x":{"field":"gi","type":"quantitative"},"y":{"field":"hi","type":"quantitative"},"color":{"field":"g","type":"nominal"}}},
      {"data":{"values":[{}]},"mark":{"type":"rule","color":"#111","strokeWidth":2.2},"encoding":{"x":{"datum":0,"type":"quantitative"},"x2":{"datum":1},"y":{"datum":36.6,"type":"quantitative"}}},
      {"data":{"values":[{}]},"mark":{"type":"rule","color":"#111","strokeWidth":2.2},"encoding":{"x":{"datum":0,"type":"quantitative"},"y":{"datum":36.6,"type":"quantitative"},"y2":{"datum":35.4}}},
      {"data":{"values":[{}]},"mark":{"type":"rule","color":"#111","strokeWidth":2.2},"encoding":{"x":{"datum":1,"type":"quantitative"},"y":{"datum":36.6,"type":"quantitative"},"y2":{"datum":33.5}}},
      {"data":{"values":[{}]},"mark":{"type":"text","text":"**","fontSize":19,"fontWeight":"bold","baseline":"middle"},"encoding":{"x":{"datum":0.5,"type":"quantitative"},"y":{"datum":38.6,"type":"quantitative"}}},
      {"data":{"values":[{}]},"mark":{"type":"text","text":"G","fontSize":18,"align":"left","baseline":"middle"},"encoding":{"x":{"datum":-0.933,"type":"quantitative"},"y":{"datum":53.3,"type":"quantitative"}}},
      {"data":{"values":[{}]},"mark":{"type":"text","text":"PNC proliferation","fontSize":14.5,"baseline":"middle"},"encoding":{"x":{"datum":0.279,"type":"quantitative"},"y":{"datum":48.8,"type":"quantitative"}}}
     ]
    }
   ],"spacing":32,"resolve":{"scale":{"color":"independent","fill":"independent","stroke":"independent"},"legend":{"color":"independent"}}}
   ],"spacing":47,"resolve":{"scale":{"color":"independent","fill":"independent","stroke":"independent"},"legend":{"color":"independent"}}}
  ],"spacing":0,"resolve":{"scale":{"color":"independent","fill":"independent","stroke":"independent"},"legend":{"color":"independent"}}},
  {"hconcat":[
   {"width":1,"height":1,"data":{"values":[{}]},"mark":{"type":"point","opacity":0,"size":0},"encoding":{}},
   {"hconcat":[
   {"width":137,"height":160,
    "layer":[
     {"data":{"name":"Hbar"},"transform":[{"calculate":"indexof(['HRAS','HRAS+Met'], datum.g)","as":"gi"}],"mark":{"type":"bar","width":45,"strokeWidth":1.5},"encoding":{"x":{"field":"gi","type":"quantitative","scale":{"domain":[-0.524,1.438],"nice":false,"zero":false},"axis":{"values":[0,1],"title":null,"labelExpr":"datum.value == 0 ? 'HRAS' : 'HRAS+Met'","labelFontSize":12,"labelPadding":3}},"y":{"field":"m","type":"quantitative","scale":{"domain":[0,700000],"nice":false},"axis":{"values":[0,100000,200000,300000,400000,500000,600000,700000],"format":"d","title":"Fluorescent area (µm³)","titleFontSize":14.5,"labelFontSize":10,"labelPadding":0,"titlePadding":6}},"fill":{"field":"g","type":"nominal","scale":{"domain":["HRAS","HRAS+Met"],"range":["#0057e3","#ff5722"]},"legend":null},"stroke":{"field":"g","type":"nominal","scale":{"domain":["HRAS","HRAS+Met"],"range":["#1b3f8f","#6e2c2c"]},"legend":null}}},
     {"data":{"name":"Hpts"},"transform":[{"calculate":"indexof(['HRAS','HRAS+Met'], datum.g)","as":"gi"},{"window":[{"op":"row_number","as":"rn"}],"groupby":["g"],"sort":[{"field":"v","order":"descending"}]},{"calculate":"datum.gi + (((datum.rn*3)%5)-2)*0.12","as":"xp"}],"mark":{"type":"circle","size":30,"opacity":1},"encoding":{"x":{"field":"xp","type":"quantitative"},"y":{"field":"v","type":"quantitative"},"color":{"field":"g","type":"nominal","scale":{"domain":["HRAS","HRAS+Met"],"range":["#0c3d96","#6b2132"]},"legend":null}}},
     {"data":{"name":"Hbar"},"transform":[{"calculate":"indexof(['HRAS','HRAS+Met'], datum.g)","as":"gi"}],"mark":{"type":"rule","strokeWidth":2},"encoding":{"x":{"field":"gi","type":"quantitative"},"y":{"field":"lo","type":"quantitative"},"y2":{"field":"hi"},"color":{"field":"g","type":"nominal"}}},
     {"data":{"name":"Hbar"},"transform":[{"calculate":"indexof(['HRAS','HRAS+Met'], datum.g)","as":"gi"}],"mark":{"type":"tick","orient":"horizontal","size":25,"thickness":2},"encoding":{"x":{"field":"gi","type":"quantitative"},"y":{"field":"lo","type":"quantitative"},"color":{"field":"g","type":"nominal"}}},
     {"data":{"name":"Hbar"},"transform":[{"calculate":"indexof(['HRAS','HRAS+Met'], datum.g)","as":"gi"}],"mark":{"type":"tick","orient":"horizontal","size":25,"thickness":2},"encoding":{"x":{"field":"gi","type":"quantitative"},"y":{"field":"hi","type":"quantitative"},"color":{"field":"g","type":"nominal"}}},
     {"data":{"values":[{}]},"mark":{"type":"rule","color":"#444","strokeWidth":1.2},"encoding":{"x":{"datum":0,"type":"quantitative"},"x2":{"datum":1},"y":{"datum":757000,"type":"quantitative"}}},
     {"data":{"values":[{}]},"mark":{"type":"rule","color":"#444","strokeWidth":1.2},"encoding":{"x":{"datum":0,"type":"quantitative"},"y":{"datum":757000,"type":"quantitative"},"y2":{"datum":732000}}},
     {"data":{"values":[{}]},"mark":{"type":"rule","color":"#444","strokeWidth":1.2},"encoding":{"x":{"datum":1,"type":"quantitative"},"y":{"datum":757000,"type":"quantitative"},"y2":{"datum":448000}}},
     {"data":{"values":[{}]},"mark":{"type":"text","text":"*","fontSize":14,"fontWeight":"bold","baseline":"middle"},"encoding":{"x":{"datum":0.5,"type":"quantitative"},"y":{"datum":778000,"type":"quantitative"}}},
     {"data":{"values":[{}]},"mark":{"type":"text","text":"H","fontSize":18,"align":"left","baseline":"middle"},"encoding":{"x":{"datum":-1.385,"type":"quantitative"},"y":{"datum":892000,"type":"quantitative"}}},
     {"data":{"values":[{}]},"mark":{"type":"text","text":"PNC progression","fontSize":14,"fontWeight":"bold","baseline":"middle"},"encoding":{"x":{"datum":0.352,"type":"quantitative"},"y":{"datum":848500,"type":"quantitative"}}}
    ]
   },
   {"hconcat":[
    {"width":146,"height":161,
     "layer":[
      {"data":{"name":"Ibar"},"transform":[{"calculate":"indexof(['HRAS','HRAS+IACS'], datum.g)","as":"gi"}],"mark":{"type":"bar","width":42,"strokeWidth":1.5},"encoding":{"x":{"field":"gi","type":"quantitative","scale":{"domain":[-0.731,1.619],"nice":false,"zero":false},"axis":{"values":[0,1],"title":null,"labelExpr":"datum.value == 0 ? 'HRAS' : 'HRAS+IACS'","labelFontSize":12,"labelFontWeight":"normal","labelPadding":3}},"y":{"field":"m","type":"quantitative","scale":{"domain":[0,41.74],"nice":false},"axis":{"values":[0,10,20,30,40],"domain":false,"title":"% EdU+ve eGFP+ve cells","titleFontSize":13,"labelFontSize":11,"labelPadding":0,"titlePadding":9}},"fill":{"field":"g","type":"nominal","scale":{"domain":["HRAS","HRAS+IACS"],"range":["#0057e3","#ff5722"]},"legend":null},"stroke":{"field":"g","type":"nominal","scale":{"domain":["HRAS","HRAS+IACS"],"range":["#1b3f8f","#6e2c2c"]},"legend":null}}},
      {"data":{"values":[{}]},"mark":{"type":"rule","color":"#000","strokeWidth":1.5},"encoding":{"x":{"datum":-0.731,"type":"quantitative"},"y":{"datum":0,"type":"quantitative"},"y2":{"datum":40}}},
      {"data":{"name":"Ipts"},"transform":[{"calculate":"indexof(['HRAS','HRAS+IACS'], datum.g)","as":"gi"},{"window":[{"op":"row_number","as":"rn"}],"groupby":["g"],"sort":[{"field":"v","order":"descending"}]},{"calculate":"datum.gi + (((datum.rn*3)%5)-2)*0.117","as":"xp"}],"mark":{"type":"circle","size":34,"opacity":1},"encoding":{"x":{"field":"xp","type":"quantitative"},"y":{"field":"v","type":"quantitative"},"color":{"field":"g","type":"nominal","scale":{"domain":["HRAS","HRAS+IACS"],"range":["#0c3d96","#6b2132"]},"legend":null}}},
      {"data":{"name":"Ibar"},"transform":[{"calculate":"indexof(['HRAS','HRAS+IACS'], datum.g)","as":"gi"}],"mark":{"type":"rule","strokeWidth":2},"encoding":{"x":{"field":"gi","type":"quantitative"},"y":{"field":"lo","type":"quantitative"},"y2":{"field":"hi"},"color":{"field":"g","type":"nominal"}}},
      {"data":{"name":"Ibar"},"transform":[{"calculate":"indexof(['HRAS','HRAS+IACS'], datum.g)","as":"gi"}],"mark":{"type":"tick","orient":"horizontal","size":27,"thickness":2},"encoding":{"x":{"field":"gi","type":"quantitative"},"y":{"field":"lo","type":"quantitative"},"color":{"field":"g","type":"nominal"}}},
      {"data":{"name":"Ibar"},"transform":[{"calculate":"indexof(['HRAS','HRAS+IACS'], datum.g)","as":"gi"}],"mark":{"type":"tick","orient":"horizontal","size":27,"thickness":2},"encoding":{"x":{"field":"gi","type":"quantitative"},"y":{"field":"hi","type":"quantitative"},"color":{"field":"g","type":"nominal"}}},
      {"data":{"values":[{}]},"mark":{"type":"rule","color":"#444","strokeWidth":1.2},"encoding":{"x":{"datum":0,"type":"quantitative"},"x2":{"datum":1},"y":{"datum":42.5,"type":"quantitative"}}},
      {"data":{"values":[{}]},"mark":{"type":"rule","color":"#444","strokeWidth":1.2},"encoding":{"x":{"datum":0,"type":"quantitative"},"y":{"datum":42.5,"type":"quantitative"},"y2":{"datum":41}}},
      {"data":{"values":[{}]},"mark":{"type":"rule","color":"#444","strokeWidth":1.2},"encoding":{"x":{"datum":1,"type":"quantitative"},"y":{"datum":42.5,"type":"quantitative"},"y2":{"datum":12.3}}},
      {"data":{"values":[{}]},"mark":{"type":"text","text":"****","fontSize":14,"fontWeight":"bold","baseline":"middle"},"encoding":{"x":{"datum":0.5,"type":"quantitative"},"y":{"datum":43.8,"type":"quantitative"}}},
      {"data":{"values":[{}]},"mark":{"type":"text","text":"I","fontSize":18,"align":"left","baseline":"middle"},"encoding":{"x":{"datum":-1.182,"type":"quantitative"},"y":{"datum":52.1,"type":"quantitative"}}},
      {"data":{"values":[{}]},"mark":{"type":"text","text":"PNC Proliferation","fontSize":13.5,"fontWeight":"bold","baseline":"middle"},"encoding":{"x":{"datum":0.294,"type":"quantitative"},"y":{"datum":49.8,"type":"quantitative"}}}
     ]
    },
    {"width":142,"height":162,
     "layer":[
      {"data":{"name":"Jbar"},"transform":[{"calculate":"indexof(['HRAS','HRAS+IACS'], datum.g)","as":"gi"}],"mark":{"type":"bar","width":37,"strokeWidth":1.5},"encoding":{"x":{"field":"gi","type":"quantitative","scale":{"domain":[-0.711,1.753],"nice":false,"zero":false},"axis":{"values":[0,1],"title":null,"labelExpr":"datum.value == 0 ? 'HRAS' : 'HRAS+IACS'","labelFontSize":12,"labelFontWeight":"normal","labelPadding":3}},"y":{"field":"m","type":"quantitative","scale":{"domain":[0,6659],"nice":false},"axis":{"values":[0,2000,4000,6000],"domain":false,"format":"d","title":"PNCs per animal (n)","titleFontSize":13.5,"labelFontSize":9.5,"labelPadding":1,"titlePadding":8}},"fill":{"field":"g","type":"nominal","scale":{"domain":["HRAS","HRAS+IACS"],"range":["#0057e3","#ff5722"]},"legend":null},"stroke":{"field":"g","type":"nominal","scale":{"domain":["HRAS","HRAS+IACS"],"range":["#1b3f8f","#6e2c2c"]},"legend":null}}},
      {"data":{"values":[{}]},"mark":{"type":"rule","color":"#000","strokeWidth":1.5},"encoding":{"x":{"datum":-0.711,"type":"quantitative"},"y":{"datum":0,"type":"quantitative"},"y2":{"datum":6000}}},
      {"data":{"name":"Jpts"},"transform":[{"calculate":"indexof(['HRAS','HRAS+IACS'], datum.g)","as":"gi"},{"window":[{"op":"row_number","as":"rn"}],"groupby":["g"],"sort":[{"field":"v","order":"descending"}]},{"calculate":"datum.gi + (((datum.rn*3)%5)-2)*0.07","as":"xp"}],"mark":{"type":"circle","size":34,"opacity":1},"encoding":{"x":{"field":"xp","type":"quantitative"},"y":{"field":"v","type":"quantitative"},"color":{"field":"g","type":"nominal","scale":{"domain":["HRAS","HRAS+IACS"],"range":["#0c3d96","#6b2132"]},"legend":null}}},
      {"data":{"name":"Jbar"},"transform":[{"calculate":"indexof(['HRAS','HRAS+IACS'], datum.g)","as":"gi"}],"mark":{"type":"rule","strokeWidth":2},"encoding":{"x":{"field":"gi","type":"quantitative"},"y":{"field":"lo","type":"quantitative"},"y2":{"field":"hi"},"color":{"field":"g","type":"nominal"}}},
      {"data":{"name":"Jbar"},"transform":[{"calculate":"indexof(['HRAS','HRAS+IACS'], datum.g)","as":"gi"}],"mark":{"type":"tick","orient":"horizontal","size":23,"thickness":2},"encoding":{"x":{"field":"gi","type":"quantitative"},"y":{"field":"lo","type":"quantitative"},"color":{"field":"g","type":"nominal"}}},
      {"data":{"name":"Jbar"},"transform":[{"calculate":"indexof(['HRAS','HRAS+IACS'], datum.g)","as":"gi"}],"mark":{"type":"tick","orient":"horizontal","size":23,"thickness":2},"encoding":{"x":{"field":"gi","type":"quantitative"},"y":{"field":"hi","type":"quantitative"},"color":{"field":"g","type":"nominal"}}},
      {"data":{"values":[{}]},"mark":{"type":"rule","color":"#444","strokeWidth":1.2},"encoding":{"x":{"datum":0,"type":"quantitative"},"x2":{"datum":1},"y":{"datum":6207,"type":"quantitative"}}},
      {"data":{"values":[{}]},"mark":{"type":"rule","color":"#444","strokeWidth":1.2},"encoding":{"x":{"datum":0,"type":"quantitative"},"y":{"datum":6207,"type":"quantitative"},"y2":{"datum":6000}}},
      {"data":{"values":[{}]},"mark":{"type":"rule","color":"#444","strokeWidth":1.2},"encoding":{"x":{"datum":1,"type":"quantitative"},"y":{"datum":6207,"type":"quantitative"},"y2":{"datum":3048}}},
      {"data":{"values":[{}]},"mark":{"type":"text","text":"**","fontSize":14,"fontWeight":"bold","baseline":"middle"},"encoding":{"x":{"datum":0.5,"type":"quantitative"},"y":{"datum":6420,"type":"quantitative"}}},
      {"data":{"values":[{}]},"mark":{"type":"text","text":"J","fontSize":18,"align":"left","baseline":"middle"},"encoding":{"x":{"datum":-1.69,"type":"quantitative"},"y":{"datum":8101,"type":"quantitative"}}},
      {"data":{"values":[{}]},"mark":{"type":"text","text":"PNC progression","fontSize":14,"fontWeight":"bold","baseline":"middle"},"encoding":{"x":{"datum":0.275,"type":"quantitative"},"y":{"datum":7689,"type":"quantitative"}}}
     ]
    }
   ],"spacing":38,"resolve":{"scale":{"color":"independent","fill":"independent","stroke":"independent"},"legend":{"color":"independent"}}}
   ],"spacing":64,"resolve":{"scale":{"color":"independent","fill":"independent","stroke":"independent"},"legend":{"color":"independent"}}}
  ],"spacing":0,"resolve":{"scale":{"color":"independent","fill":"independent","stroke":"independent"},"legend":{"color":"independent"}}}
 ],"columns":1,"align":"none","spacing":15,"resolve":{"scale":{"color":"independent","fill":"independent","stroke":"independent"},"legend":{"color":"independent"}}}
],
"columns":1,"align":"none","spacing":-7
}
